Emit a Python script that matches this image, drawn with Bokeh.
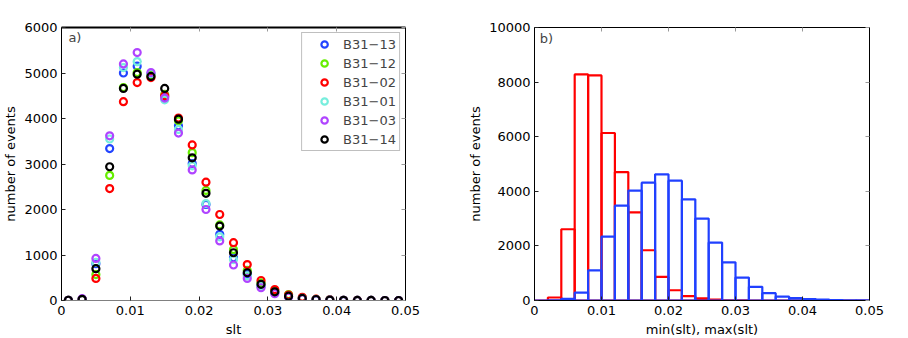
from bokeh.plotting import figure
from bokeh.layouts import row
from bokeh.models import FixedTicker, LinearAxis, Label, Legend, LegendItem, Range1d
from bokeh.embed import file_html
from bokeh.resources import INLINE

# ---------------- data: panel a ----------------
slt = [0.001, 0.003, 0.005, 0.007, 0.009, 0.011, 0.013, 0.015, 0.017, 0.019,
       0.021, 0.023, 0.025, 0.027, 0.029, 0.031, 0.033, 0.035, 0.037, 0.039,
       0.041, 0.043, 0.045, 0.047, 0.049]
series_names = ["B31\u221213", "B31\u221212", "B31\u221202", "B31\u221201", "B31\u221203", "B31\u221214"]
series_colors = ["#2244ff", "#66ee00", "#ff0000", "#77eedd", "#b044ff", "#000000"]
b31_13 = [5, 25, 810, 3340, 5000, 5150, 4980, 4480, 3840, 3010, 2110, 1455, 940, 580, 320, 175, 90, 45, 20, 10, 4, 2, 1, 0, 0]
b31_12 = [5, 25, 570, 2750, 4680, 5010, 4950, 4530, 3950, 3250, 2420, 1660, 1120, 660, 390, 215, 130, 60, 25, 12, 5, 2, 1, 0, 0]
b31_02 = [5, 25, 485, 2460, 4370, 4790, 4900, 4500, 4010, 3420, 2600, 1890, 1270, 790, 440, 240, 120, 70, 30, 15, 6, 3, 1, 0, 0]
b31_01 = [5, 25, 840, 3550, 5120, 5250, 4990, 4410, 3760, 2960, 2130, 1400, 900, 540, 310, 170, 90, 45, 20, 10, 4, 2, 1, 0, 0]
b31_03 = [5, 40, 925, 3620, 5200, 5450, 5010, 4450, 3680, 2870, 2000, 1310, 780, 485, 280, 150, 75, 40, 18, 8, 3, 1, 1, 0, 0]
b31_14 = [5, 25, 700, 2940, 4660, 4975, 4925, 4660, 3985, 3135, 2355, 1635, 1050, 610, 355, 190, 95, 45, 22, 10, 4, 2, 1, 0, 0]
series_values = [b31_13, b31_12, b31_02, b31_01, b31_03, b31_14]

# ---------------- data: panel b ----------------
bin_edges = [0.000, 0.002, 0.004, 0.006, 0.008, 0.010, 0.012, 0.014, 0.016, 0.018,
             0.020, 0.022, 0.024, 0.026, 0.028, 0.030, 0.032, 0.034, 0.036, 0.038,
             0.040, 0.042, 0.044, 0.046, 0.048, 0.050]
min_counts = [0, 110, 2610, 8280, 8245, 6135, 4705, 3230, 1840, 865, 375, 160, 75, 30, 10, 3,
              0, 0, 0, 0, 0, 0, 0, 0, 0]
max_counts = [0, 10, 60, 290, 1100, 2340, 3475, 4025, 4315, 4620, 4390, 3705, 3000, 2120, 1400,
              840, 500, 270, 145, 85, 50, 30, 15, 8, 3]

x_ticks = [0, 0.01, 0.02, 0.03, 0.04, 0.05]
x_tick_labels = ["0", "0.01", "0.02", "0.03", "0.04", "0.05"]
ya_ticks = [0, 1000, 2000, 3000, 4000, 5000, 6000]
yb_ticks = [0, 2000, 4000, 6000, 8000, 10000]

FONT = "DejaVu Sans"
FS = "13px"


def style(p, yticks, xaxis_color="#000000"):
    p.outline_line_color = "#000000"
    p.outline_line_width = 1
    p.xgrid.visible = False
    p.ygrid.visible = False
    for ax in [p.xaxis[0], p.yaxis[0]]:
        ax.major_label_text_font = FONT
        ax.major_label_text_font_size = FS
        ax.major_label_text_color = "#000000"
        ax.axis_label_text_font = FONT
        ax.axis_label_text_font_size = FS
        ax.axis_label_text_font_style = "normal"
        ax.axis_label_text_color = "#000000"
        ax.major_tick_in = 4
        ax.major_tick_out = 0
        ax.minor_tick_line_color = None
        ax.major_tick_line_color = "#222222"
        ax.axis_line_color = "#000000"
    p.xaxis[0].ticker = FixedTicker(ticks=x_ticks)
    p.xaxis[0].major_label_overrides = {t: l for t, l in zip(x_ticks, x_tick_labels)}
    p.xaxis[0].major_label_standoff = 5
    p.xaxis[0].axis_label_standoff = 4
    p.xaxis[0].axis_line_color = xaxis_color
    p.yaxis[0].ticker = FixedTicker(ticks=yticks)
    p.yaxis[0].major_label_standoff = 4
    p.yaxis[0].axis_label_standoff = 3
    for loc, ticks in (("above", x_ticks), ("right", yticks)):
        ax = LinearAxis(ticker=FixedTicker(ticks=ticks), major_label_text_font_size="0px",
                        major_label_text_color=None, major_label_standoff=0,
                        major_tick_in=4, major_tick_out=0,
                        minor_tick_line_color=None, major_tick_line_color="#999999",
                        axis_line_color="#000000")
        p.add_layout(ax, loc)


# ---------------- panel a ----------------
pa = figure(frame_width=344, frame_height=273, output_backend="svg", toolbar_location=None,
            x_range=Range1d(0, 0.05), y_range=Range1d(0, 6000),
            min_border_left=53, min_border_right=60, min_border_top=27, min_border_bottom=36,
            x_axis_label="slt", y_axis_label="number of events")
style(pa, ya_ticks, xaxis_color="#808080")
pa.xaxis[0].axis_line_width = 2

items = []
for name, col, vals in zip(series_names, series_colors, series_values):
    r = pa.scatter(slt, vals, size=7, marker="circle", fill_color=None, line_color=col, line_width=2.2)
    items.append(LegendItem(label=name, renderers=[r]))

leg = Legend(items=items, location="top_right", margin=5, padding=3, spacing=3,
             glyph_width=38, glyph_height=16, label_height=16, label_standoff=0,
             label_text_font=FONT, label_text_font_size=FS,
             border_line_color="#7f7f7f", border_line_width=1,
             background_fill_color="#ffffff", background_fill_alpha=1)
pa.add_layout(leg)
pa.add_layout(Label(x=0.001, y=5790, text="a)", text_baseline="middle",
                    text_font=FONT, text_font_size=FS))

# ---------------- panel b ----------------
pb = figure(frame_width=335, frame_height=273, output_backend="svg", toolbar_location=None,
            x_range=Range1d(0, 0.05), y_range=Range1d(0, 10000),
            min_border_left=65, min_border_right=15, min_border_top=26, min_border_bottom=36,
            x_axis_label="min(slt), max(slt)", y_axis_label="number of events")
style(pb, yb_ticks)

pb.quad(left=bin_edges[:-1], right=bin_edges[1:], bottom=0, top=min_counts,
        fill_color=None, line_color="#ff0000", line_width=2.2)
pb.quad(left=bin_edges[:-1], right=bin_edges[1:], bottom=0, top=max_counts,
        fill_color=None, line_color="#2040ff", line_width=2.2)
pb.add_layout(Label(x=0.0008, y=9600, text="b)", text_baseline="middle",
                    text_font=FONT, text_font_size=FS))

layout = row(pa, pb)
open("out.html", "w").write(file_html(layout, INLINE))
